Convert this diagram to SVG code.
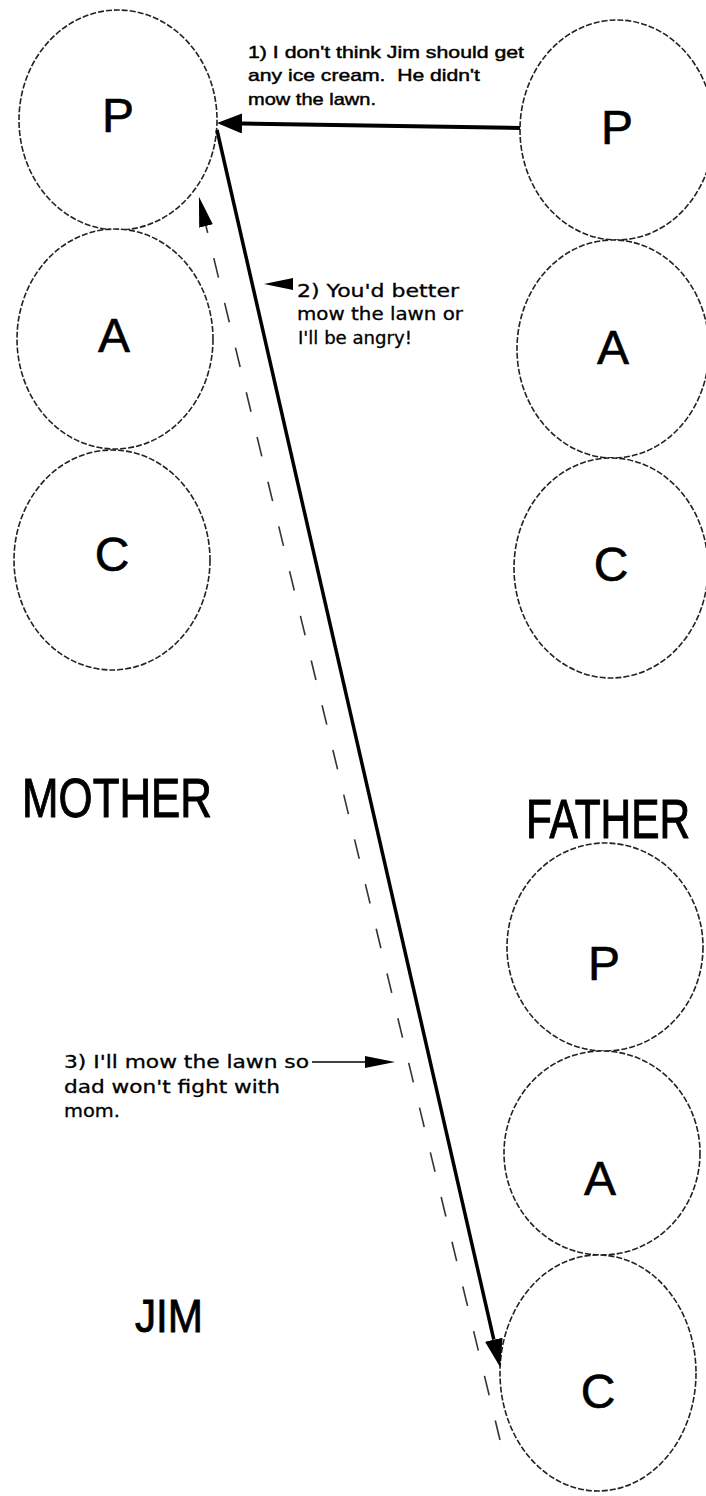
<svg xmlns="http://www.w3.org/2000/svg" width="706" height="1496" viewBox="0 0 706 1496">
<style>
  .ego { fill: #ffffff; stroke: #222; stroke-width: 1.6; stroke-dasharray: 6 2; }
  .st { font-family: "Liberation Sans", Arial, sans-serif; font-size: 48px; fill: #000; text-anchor: middle; stroke: #000; stroke-width: 0.6; }
  .who { font-family: "Liberation Sans", Arial, sans-serif; fill: #000; stroke: #000; stroke-width: 0.8; }
  .l1 { font-family: "Liberation Sans", Arial, sans-serif; font-size: 17px; fill: #000; stroke: #000; stroke-width: 0.45; }
  .l2 { font-family: "DejaVu Sans", "Liberation Sans", sans-serif; font-size: 17px; fill: #000; stroke: #000; stroke-width: 0.3; }
</style>
<defs>
  <marker id="headA" markerUnits="userSpaceOnUse" markerWidth="26" markerHeight="20" refX="0" refY="10" orient="auto">
    <path d="M0,0 L25,10 L0,20 z" fill="#000"/>
  </marker>
  <marker id="headB" markerUnits="userSpaceOnUse" markerWidth="29" markerHeight="18" refX="0" refY="9" orient="auto">
    <path d="M0,0 L28,9 L0,18 z" fill="#000"/>
  </marker>
  <marker id="headC" markerUnits="userSpaceOnUse" markerWidth="31" markerHeight="14" refX="0" refY="7" orient="auto">
    <path d="M0,0 L30,7 L0,14 z" fill="#000"/>
  </marker>
  <marker id="headD" markerUnits="userSpaceOnUse" markerWidth="31" markerHeight="12" refX="0" refY="6" orient="auto">
    <path d="M0,0 L30,6 L0,12 z" fill="#000"/>
  </marker>
</defs>
<rect width="706" height="1496" fill="#ffffff"/>

<g id="mother">
  <g id="mother-P"><ellipse class="ego" cx="118" cy="120" rx="99" ry="110"/><text class="st" x="118" y="132">P</text></g>
  <g id="mother-A"><ellipse class="ego" cx="115" cy="339" rx="98" ry="110"/><text class="st" x="114" y="352">A</text></g>
  <g id="mother-C"><ellipse class="ego" cx="112" cy="560" rx="98" ry="110"/><text class="st" x="112" y="571">C</text></g>
  <text class="who" transform="translate(22,817) scale(1,1.27)" style="font-size:44px" textLength="190" lengthAdjust="spacingAndGlyphs">MOTHER</text>
</g>

<g id="father">
  <g id="father-P"><ellipse class="ego" cx="617" cy="130" rx="97" ry="110"/><text class="st" x="617" y="144">P</text></g>
  <g id="father-A"><ellipse class="ego" cx="613" cy="349" rx="96" ry="109"/><text class="st" x="613" y="364">A</text></g>
  <g id="father-C"><ellipse class="ego" cx="611" cy="568" rx="97" ry="110"/><text class="st" x="611" y="581">C</text></g>
  <text class="who" transform="translate(526,838) scale(1,1.37)" style="font-size:41px" textLength="164" lengthAdjust="spacingAndGlyphs">FATHER</text>
</g>

<g id="jim">
  <g id="jim-P"><ellipse class="ego" cx="605" cy="947" rx="98" ry="104"/><text class="st" x="604" y="980">P</text></g>
  <g id="jim-A"><ellipse class="ego" cx="602" cy="1153" rx="98" ry="102"/><text class="st" x="600" y="1195">A</text></g>
  <g id="jim-C"><ellipse class="ego" cx="598" cy="1373" rx="98" ry="118"/><text class="st" x="598" y="1408">C</text></g>
  <text class="who" transform="translate(135,1332) scale(1,1.1)" style="font-size:42px" textLength="68" lengthAdjust="spacingAndGlyphs">JIM</text>
</g>

<g id="connectors">
  <line x1="520" y1="128" x2="242" y2="123.5" stroke="#000" stroke-width="4" marker-end="url(#headA)"/>
  <line x1="217" y1="130" x2="493.8" y2="1339.7" stroke="#000" stroke-width="3.5" marker-end="url(#headB)"/>
  <line x1="500" y1="1440" x2="206" y2="226" stroke="#333" stroke-width="1.6" stroke-dasharray="20 26" marker-end="url(#headC)"/>
  <polygon points="264,284 293,278 293,290" fill="#000"/>
  <line x1="312" y1="1062" x2="365" y2="1062" stroke="#000" stroke-width="1.6" marker-end="url(#headD)"/>
</g>

<g id="label-1">
  <text class="l1" x="248" y="58" textLength="276" lengthAdjust="spacingAndGlyphs">1) I don't think Jim should get</text>
  <text class="l1" x="248" y="81" textLength="232" lengthAdjust="spacingAndGlyphs" xml:space="preserve">any ice cream.  He didn't</text>
  <text class="l1" x="248" y="105" textLength="128" lengthAdjust="spacingAndGlyphs">mow the lawn.</text>
</g>
<g id="label-2">
  <text class="l2" x="297" y="297" textLength="162" lengthAdjust="spacingAndGlyphs">2) You'd better</text>
  <text class="l2" x="297" y="320" textLength="166" lengthAdjust="spacingAndGlyphs">mow the lawn or</text>
  <text class="l2" x="298" y="344" textLength="114" lengthAdjust="spacingAndGlyphs">I'll be angry!</text>
</g>
<g id="label-3">
  <text class="l2" x="64" y="1068" textLength="245" lengthAdjust="spacingAndGlyphs">3) I'll mow the lawn so</text>
  <text class="l2" x="64" y="1093" textLength="216" lengthAdjust="spacingAndGlyphs">dad won't fight with</text>
  <text class="l2" x="64" y="1117" textLength="56" lengthAdjust="spacingAndGlyphs">mom.</text>
</g>
</svg>
